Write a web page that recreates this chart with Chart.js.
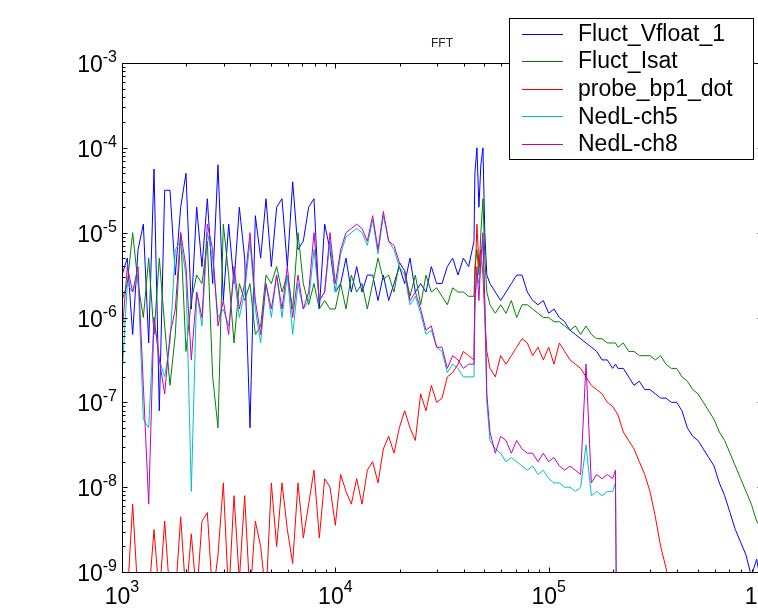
<!DOCTYPE html>
<html>
<head>
<meta charset="utf-8">
<script src="https://cdn.jsdelivr.net/npm/chart.js@4.4.1/dist/chart.umd.min.js"></script>
<style>
html, body { margin: 0; padding: 0; overflow: hidden; background: #fff; width: 758px; height: 613px; }
canvas { display: block; }
</style>
</head>
<body>
<canvas id="fftChart" width="790" height="613"></canvas>
<script>
// frequency axis (Hz)
const freqHz = [1000,1059,1122,1189,1259,1334,1413,1496,1585,1679,1778,1884,1995,2113,2239,2371,2512,2661,2818,2985,
  3162,3350,3548,3758,3981,4217,4467,4732,5012,5309,5623,5957,6310,6683,7079,7499,7943,8414,8913,9441,
  10000,10593,11220,11885,12589,13335,14125,14962,15849,16788,17783,18836,19953,21135,22387,23714,25119,26607,28184,29854,
  31623,33497,35481,37584,39811,42170,
  44668,45100,46100,47100,48100,49200,50200,51300,
  53088,56234,59566,63096,66834,70795,74989,79433,84140,89125,94406,
  100000,105925,112202,118850,125893,133352,141254,149624,158489,167880,177828,188365,199526,
  205600,
  211349,223872,237137,251189,266073,281838,298538,316228,334965,354813,375837,398107,421697,446684,473151,501187,
  530884,562341,595662,630957,668344,707946,749894,794328,841395,891251,944061,1000000];

// amplitudes, stored as log10(value)
const vfloatLog = [-5.5,-5.3,-6.2,-5.2,-4.9,-6.3,-4.25,-7.1,-4.5,-4.5,-5.5,-4.7,-4.3,-5.9,-4.7,-5.4,-4.6,-5.6,-4.2,-5.8,
  -4.9,-5.6,-4.7,-5.3,-7.3,-4.8,-5.3,-4.6,-5.4,-4.7,-4.6,-5.4,-4.4,-5.2,-5.1,-4.7,-4.6,-5.9,-4.9,-5.2,
  -5.7,-5.6,-5.3,-5.7,-5.4,-5.7,-5.5,-5.5,-5.8,-5.5,-5.8,-5.6,-5.4,-5.6,-5.3,-5.7,-5.6,-5.7,-5.4,-5.6,-5.6,-5.4,-5.3,-5.5,-5.3,-5.4,
  -5.1,-4.3,-4.0,-4.7,-4.2,-4.0,-5.0,-5.5,
  -5.6,-5.7,-5.8,-5.7,-5.6,-5.5,-5.5,-5.7,-5.8,-5.85,-5.8,-5.95,-5.9,-6.0,-6.05,-6.15,-6.2,-6.25,-6.3,-6.35,-6.4,-6.5,-6.5,-6.6,
  -6.55,
  -6.6,-6.6,-6.7,-6.8,-6.75,-6.85,-6.85,-6.9,-6.95,-6.95,-7.0,-7.0,-7.1,-7.3,-7.4,-7.45,-7.55,-7.65,-7.75,-7.95,
  -8.1,-8.3,-8.5,-8.65,-8.8,-9.05,-8.85,-9.2];

const isatLog = [-5.8,-5.6,-5.0,-5.6,-6.0,-5.3,-6.2,-5.3,-6.1,-6.8,-6.2,-5.0,-6.4,-5.8,-5.5,-5.6,-5.1,-6.7,-7.3,-4.9,
  -5.5,-6.3,-5.6,-5.8,-5.6,-6.2,-6.1,-5.5,-5.6,-5.4,-5.7,-5.5,-5.9,-5.0,-5.6,-5.85,-5.6,-5.9,-5.8,-5.9,
  -5.9,-5.6,-5.9,-5.5,-5.7,-5.6,-5.9,-5.6,-5.3,-5.55,-5.5,-5.7,-5.35,-5.45,-5.75,-5.5,-5.85,-5.5,-5.7,-5.65,-5.75,-5.85,-5.65,-5.7,-5.7,-5.75,
  -5.75,-5.4,-5.2,-5.5,-5.0,-4.6,-5.3,-5.7,
  -5.85,-5.95,-5.85,-5.95,-5.8,-6.0,-5.85,-5.85,-5.9,-5.95,-6.0,-6.0,-6.05,-6.05,-6.1,-6.15,-6.1,-6.2,-6.1,-6.2,-6.25,-6.25,-6.3,-6.3,
  -6.3,
  -6.35,-6.3,-6.4,-6.4,-6.45,-6.45,-6.45,-6.5,-6.45,-6.55,-6.6,-6.6,-6.7,-6.75,-6.85,-6.9,-7.0,-7.1,-7.2,-7.35,
  -7.45,-7.6,-7.75,-7.9,-8.05,-8.2,-8.4,-8.5];

const bp1DotLog = [-9.3,-9.3,-8.2,-9.3,-9.3,-9.3,-8.5,-9.3,-8.4,-9.3,-9.3,-8.35,-9.3,-8.55,-9.3,-8.4,-8.3,-9.3,-8.8,-7.95,
  -9.3,-8.1,-9.1,-8.1,-9.3,-8.4,-8.7,-9.3,-7.95,-8.7,-7.95,-8.5,-8.9,-7.95,-8.6,-8.2,-7.8,-8.6,-7.9,-8.0,
  -8.45,-7.85,-8.05,-8.2,-7.9,-8.2,-7.8,-7.7,-7.95,-7.55,-7.4,-7.6,-7.3,-7.1,-7.3,-7.45,-6.9,-7.1,-6.8,-7.0,-6.95,-6.7,-6.65,-6.55,-6.4,-6.45,
  -6.5,-5.6,-4.9,-5.4,-5.2,-5.5,-6.0,-6.4,
  -6.6,-6.7,-6.45,-6.55,-6.45,-6.35,-6.25,-6.3,-6.45,-6.35,-6.5,-6.35,-6.55,-6.3,-6.4,-6.5,-6.55,-6.6,-6.7,-6.8,-6.85,-6.9,-7.0,-7.05,
  -7.1,
  -7.15,-7.35,-7.45,-7.55,-7.7,-7.85,-8.05,-8.35,-8.7,-8.95,-9.3,
  null,null,null,null,null,null,null,null,null,null,null,null,null,null,null,null,null];

const ch5Log = [-6.7,-5.6,-5.7,-5.5,-7.2,-7.3,-6.0,-6.5,-6.7,-6.3,-5.2,-5.1,-5.5,-8.05,-5.7,-6.1,-5.0,-5.3,-6.0,-5.9,
  -6.1,-5.5,-6.0,-5.7,-5.1,-5.9,-6.3,-5.6,-6.0,-5.5,-6.0,-5.5,-6.2,-5.6,-5.9,-5.8,-5.2,-5.8,-5.7,-5.1,
  -5.7,-5.25,-5.05,-5.0,-4.95,-5.0,-5.15,-4.85,-5.25,-4.8,-5.1,-5.2,-5.4,-5.5,-5.85,-5.75,-5.95,-6.2,-6.15,-6.35,-6.4,-6.65,-6.55,-6.6,-6.7,-6.7,
  -6.7,-5.9,-5.5,-5.6,-5.4,-5.1,-5.9,-7.0,
  -7.45,-7.55,-7.6,-7.7,-7.65,-7.7,-7.75,-7.8,-7.75,-7.85,-7.8,-7.9,-7.95,-7.95,-8.0,-8.0,-8.05,-8.0,-7.5,-8.1,-8.05,-8.1,-8.05,-8.05,
  -7.95,
  -12,null,null,null,null,null,null,null,null,null,null,null,null,null,null,null,null,null,null,null,
  null,null,null,null,null,null,null,null];

const ch8Log = [-6.2,-5.4,-5.7,-5.4,-6.8,-8.2,-6.0,-6.5,-6.9,-6.2,-5.9,-5.0,-5.4,-6.5,-5.7,-6.0,-4.9,-5.2,-6.1,-5.8,
  -6.2,-5.4,-5.9,-5.6,-5.0,-5.8,-6.2,-5.6,-5.9,-5.5,-5.9,-5.4,-6.0,-5.5,-5.9,-5.7,-5.0,-5.8,-5.7,-5.0,
  -5.6,-5.2,-5.0,-4.95,-4.9,-4.95,-5.1,-4.8,-5.2,-4.75,-5.1,-5.15,-5.35,-5.45,-5.8,-5.7,-5.9,-6.15,-6.1,-6.35,-6.35,-6.6,-6.45,-6.5,-6.6,-6.55,
  -6.55,-5.8,-5.4,-5.8,-5.3,-5.0,-5.8,-6.9,
  -7.35,-7.6,-7.4,-7.45,-7.6,-7.45,-7.55,-7.6,-7.6,-7.7,-7.6,-7.7,-7.65,-7.75,-7.8,-7.75,-7.8,-7.85,-6.55,-7.95,-7.85,-7.9,-7.85,-7.9,
  -7.8,
  -12,null,null,null,null,null,null,null,null,null,null,null,null,null,null,null,null,null,null,null,
  null,null,null,null,null,null,null,null];

const seriesNames = ['Fluct_Vfloat_1', 'Fluct_Isat', 'probe_bp1_dot', 'NedL-ch5', 'NedL-ch8'];
const seriesColors = ['#0000ff', '#008000', '#ff0000', '#00bfbf', '#bf00bf'];
const seriesLogs = [vfloatLog, isatLog, bp1DotLog, ch5Log, ch8Log];

const toPoints = logs => freqHz.map((f, i) => ({ x: f, y: logs[i] === null ? null : Math.pow(10, logs[i]) }));

const FONT = '"Liberation Sans", Arial, sans-serif';

// matlab style box, ticks, labels, title and legend
const matlabAxes = {
  id: 'matlabAxes',
  afterDraw(chart) {
    const ctx = chart.ctx;
    const a = chart.chartArea;
    const xs = chart.scales.x, ys = chart.scales.y;
    const L = Math.round(a.left) + 0.5, R = Math.round(a.right) + 0.5;
    const T = Math.round(a.top) + 0.5, B = Math.round(a.bottom) + 0.5;
    ctx.save();
    ctx.strokeStyle = '#000';
    ctx.lineWidth = 1;
    ctx.strokeRect(L, T, R - L, B - T);

    ctx.beginPath();
    for (let d = 3; d <= 6; d++) {
      for (let k = 1; k <= 9; k++) {
        if (d === 6 && k > 1) break;
        const px = Math.round(xs.getPixelForValue(k * Math.pow(10, d))) + 0.5;
        const len = k === 1 ? 5 : 3;
        ctx.moveTo(px, B); ctx.lineTo(px, B - len);
        ctx.moveTo(px, T); ctx.lineTo(px, T + len);
      }
    }
    for (let d = -9; d <= -3; d++) {
      for (let k = 1; k <= 9; k++) {
        if (d === -3 && k > 1) break;
        const py = Math.round(ys.getPixelForValue(k * Math.pow(10, d))) + 0.5;
        const len = k === 1 ? 5 : 3;
        ctx.moveTo(L, py); ctx.lineTo(L + len, py);
        ctx.moveTo(R, py); ctx.lineTo(R - len, py);
      }
    }
    ctx.stroke();

    ctx.fillStyle = '#000';
    ctx.textBaseline = 'alphabetic';
    ctx.textAlign = 'left';
    const baseFont = '23px ' + FONT, supFont = '16px ' + FONT;
    for (let d = 3; d <= 6; d++) {
      const px = xs.getPixelForValue(Math.pow(10, d));
      ctx.font = baseFont; const wb = ctx.measureText('10').width;
      ctx.font = supFont; const ws = ctx.measureText(String(d)).width;
      const x0 = px - (wb + ws) / 2;
      ctx.font = baseFont; ctx.fillText('10', x0, a.bottom + 32);
      ctx.font = supFont; ctx.fillText(String(d), x0 + wb, a.bottom + 20);
    }
    for (let d = -9; d <= -3; d++) {
      const py = ys.getPixelForValue(Math.pow(10, d));
      ctx.font = baseFont; const wb = ctx.measureText('10').width;
      ctx.font = supFont; const ws = ctx.measureText(String(d)).width;
      const x1 = a.left - 5;
      ctx.font = supFont; ctx.fillText(String(d), x1 - ws, py - 1);
      ctx.font = baseFont; ctx.fillText('10', x1 - ws - wb, py + 9);
    }

    ctx.font = '12px ' + FONT;
    ctx.fillStyle = '#222';
    ctx.textAlign = 'center';
    ctx.fillText('FFT', 442, 47);

    // legend box
    ctx.fillStyle = '#fff';
    ctx.fillRect(509.5, 18.5, 244, 141);
    ctx.strokeStyle = '#000';
    ctx.strokeRect(509.5, 18.5, 244, 141);
    ctx.font = '23px ' + FONT;
    ctx.textAlign = 'left';
    ctx.textBaseline = 'middle';
    seriesNames.forEach((name, i) => {
      const ly = 33.5 + i * 27.6;
      ctx.strokeStyle = seriesColors[i];
      ctx.beginPath();
      ctx.moveTo(522, Math.round(ly) + 0.5);
      ctx.lineTo(563, Math.round(ly) + 0.5);
      ctx.stroke();
      ctx.fillStyle = '#000';
      ctx.fillText(name, 578, ly + 1);
    });
    ctx.restore();
  }
};

new Chart(document.getElementById('fftChart'), {
  type: 'line',
  data: {
    datasets: seriesNames.map((name, i) => ({
      label: name,
      data: toPoints(seriesLogs[i]),
      borderColor: seriesColors[i],
      borderWidth: 1,
      pointRadius: 0,
      tension: 0,
      fill: false,
      order: 5 - i
    }))
  },
  options: {
    responsive: false,
    animation: false,
    layout: { padding: { left: 122, top: 63, right: 28, bottom: 41 } },
    plugins: {
      legend: { display: false },
      title: { display: false },
      tooltip: { enabled: false }
    },
    scales: {
      x: {
        type: 'logarithmic', min: 1e3, max: 1e6,
        ticks: { display: false }, grid: { display: false }, border: { display: false },
        afterFit: s => { s.height = 0; }
      },
      y: {
        type: 'logarithmic', min: 1e-9, max: 1e-3,
        ticks: { display: false }, grid: { display: false }, border: { display: false },
        afterFit: s => { s.width = 0; }
      }
    }
  },
  plugins: [matlabAxes]
});
</script>
</body>
</html>
